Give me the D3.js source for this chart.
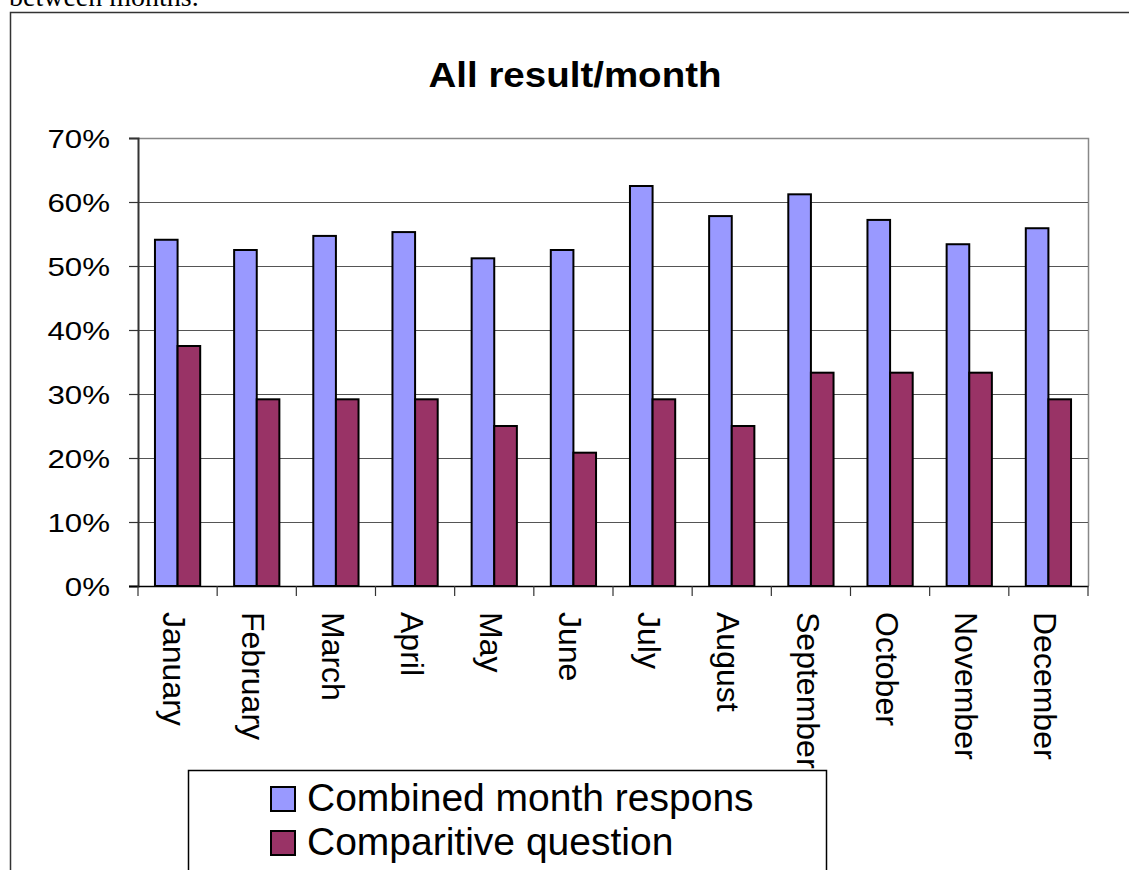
<!DOCTYPE html>
<html>
<head>
<meta charset="utf-8">
<script src="https://cdn.jsdelivr.net/npm/d3@7"></script>
<style>
  html, body { margin: 0; padding: 0; background: #ffffff; }
  svg { display: block; }
</style>
</head>
<body>
<script>
// Monthly results: combined month responses vs. the comparative question
const months = ["January", "February", "March", "April", "May", "June",
                "July", "August", "September", "October", "November", "December"];
const combinedMonth = [0.541, 0.525, 0.547, 0.553, 0.512, 0.525,
                       0.625, 0.578, 0.612, 0.572, 0.534, 0.559];
const comparitiveQuestion = [0.375, 0.2917, 0.2917, 0.2917, 0.25, 0.2083,
                             0.2917, 0.25, 0.3333, 0.3333, 0.3333, 0.2917];
const seriesNames = ["Combined month respons", "Comparitive question"];
const seriesColors = ["#9999FF", "#993366"];
const yTicks = [0, 0.1, 0.2, 0.3, 0.4, 0.5, 0.6, 0.7];

const W = 1129, H = 870;
const plot = { left: 138, right: 1088, top: 138, bottom: 586 };

const svg = d3.select("body").append("svg")
  .attr("width", W).attr("height", H);

// Tail of the surrounding paragraph, running off the page top
svg.append("text")
  .attr("x", 9).attr("y", 6)
  .attr("font-family", "'Liberation Serif', 'Times New Roman', serif")
  .attr("font-size", 28)
  .attr("fill", "#000")
  .text("between months.");

// Chart frame
svg.append("path")
  .attr("d", `M10.5,${H} L10.5,12.5 L${W},12.5`)
  .attr("fill", "none").attr("stroke", "#333").attr("stroke-width", 1.5);

// Title
svg.append("text")
  .attr("transform", "translate(575,87) scale(1.1,1)")
  .attr("text-anchor", "middle")
  .attr("font-family", "'Liberation Sans', Arial, sans-serif")
  .attr("font-weight", "bold")
  .attr("font-size", 35)
  .attr("fill", "#000")
  .text("All result/month");

const y = d3.scaleLinear().domain([0, 0.7]).range([plot.bottom, plot.top]);
const x0 = d3.scaleBand().domain(months).range([plot.left, plot.right]).padding(0);
const x1 = d3.scaleBand().domain(d3.range(seriesNames.length))
  .range([0, x0.bandwidth()]).paddingInner(0).paddingOuter(0.75);

// Plot area border (right and top)
svg.append("path")
  .attr("d", `M${plot.left},${plot.top + 0.5} L${plot.right + 0.5},${plot.top + 0.5} L${plot.right + 0.5},${plot.bottom}`)
  .attr("fill", "none").attr("stroke", "#888").attr("stroke-width", 1.5);

// Horizontal gridlines
svg.append("g").selectAll("line")
  .data(yTicks.filter(d => d > 0 && d < 0.7))
  .join("line")
  .attr("x1", plot.left).attr("x2", plot.right)
  .attr("y1", d => Math.round(y(d)) + 0.5).attr("y2", d => Math.round(y(d)) + 0.5)
  .attr("stroke", "#555").attr("stroke-width", 1);

// Bars
const rows = months.map((m, i) => ({ month: m, values: [combinedMonth[i], comparitiveQuestion[i]] }));
const groups = svg.append("g").selectAll("g")
  .data(rows).join("g")
  .attr("transform", d => `translate(${x0(d.month)},0)`);
groups.selectAll("rect")
  .data(d => d.values.map((v, k) => ({ v, k })))
  .join("rect")
  .attr("x", d => x1(d.k))
  .attr("width", x1.bandwidth())
  .attr("y", d => y(d.v))
  .attr("height", d => y(0) - y(d.v))
  .attr("fill", d => seriesColors[d.k])
  .attr("stroke", "#000").attr("stroke-width", 2);

// Y axis
const yAxis = svg.append("g")
  .attr("transform", `translate(${plot.left},0)`)
  .call(d3.axisLeft(y).tickValues(yTicks).tickSize(9).tickFormat(d3.format(".0%")));
yAxis.select(".domain").attr("stroke", "#333").attr("stroke-width", 2);
yAxis.selectAll(".tick line").attr("stroke", "#333").attr("stroke-width", 1.2);
yAxis.selectAll(".tick text").remove();
yAxis.selectAll(".tick").append("text")
  .attr("transform", "translate(-28,9) scale(1.25,1)")
  .attr("text-anchor", "end")
  .attr("font-family", "'Liberation Sans', Arial, sans-serif")
  .attr("font-size", 25)
  .attr("fill", "#000")
  .text(d => d3.format(".0%")(d));

// X axis: ticks at category boundaries
const xAxis = svg.append("g");
xAxis.append("line")
  .attr("x1", plot.left - 9).attr("x2", plot.right + 0.5)
  .attr("y1", plot.bottom + 0.5).attr("y2", plot.bottom + 0.5)
  .attr("stroke", "#000").attr("stroke-width", 1.5);
xAxis.selectAll("line.tk")
  .data(months.map(m => x0(m)).concat([plot.right]))
  .join("line").attr("class", "tk")
  .attr("x1", d => d).attr("x2", d => d)
  .attr("y1", plot.bottom).attr("y2", plot.bottom + 10)
  .attr("stroke", "#333").attr("stroke-width", 1.2);
xAxis.selectAll("text")
  .data(months).join("text")
  .attr("transform", d => `translate(${x0(d) + x0.bandwidth() / 2},612) rotate(90)`)
  .attr("dy", "0.45em")
  .attr("font-family", "'Liberation Sans', Arial, sans-serif")
  .attr("font-size", 32)
  .attr("fill", "#000")
  .text(d => d);

// Legend
const legend = svg.append("g");
legend.append("rect")
  .attr("x", 188.5).attr("y", 770.5).attr("width", 638).attr("height", 120)
  .attr("fill", "#fff").attr("stroke", "#000").attr("stroke-width", 1.5);
const items = legend.selectAll("g.item")
  .data(seriesNames).join("g").attr("class", "item")
  .attr("transform", (d, i) => `translate(271,${787 + i * 44})`);
items.append("rect")
  .attr("width", 24).attr("height", 24)
  .attr("fill", (d, i) => seriesColors[i])
  .attr("stroke", "#000").attr("stroke-width", 2);
items.append("text")
  .attr("x", 36).attr("y", 24)
  .attr("font-family", "'Liberation Sans', Arial, sans-serif")
  .attr("font-size", 39)
  .attr("fill", "#000")
  .text(d => d);
</script>
</body>
</html>
